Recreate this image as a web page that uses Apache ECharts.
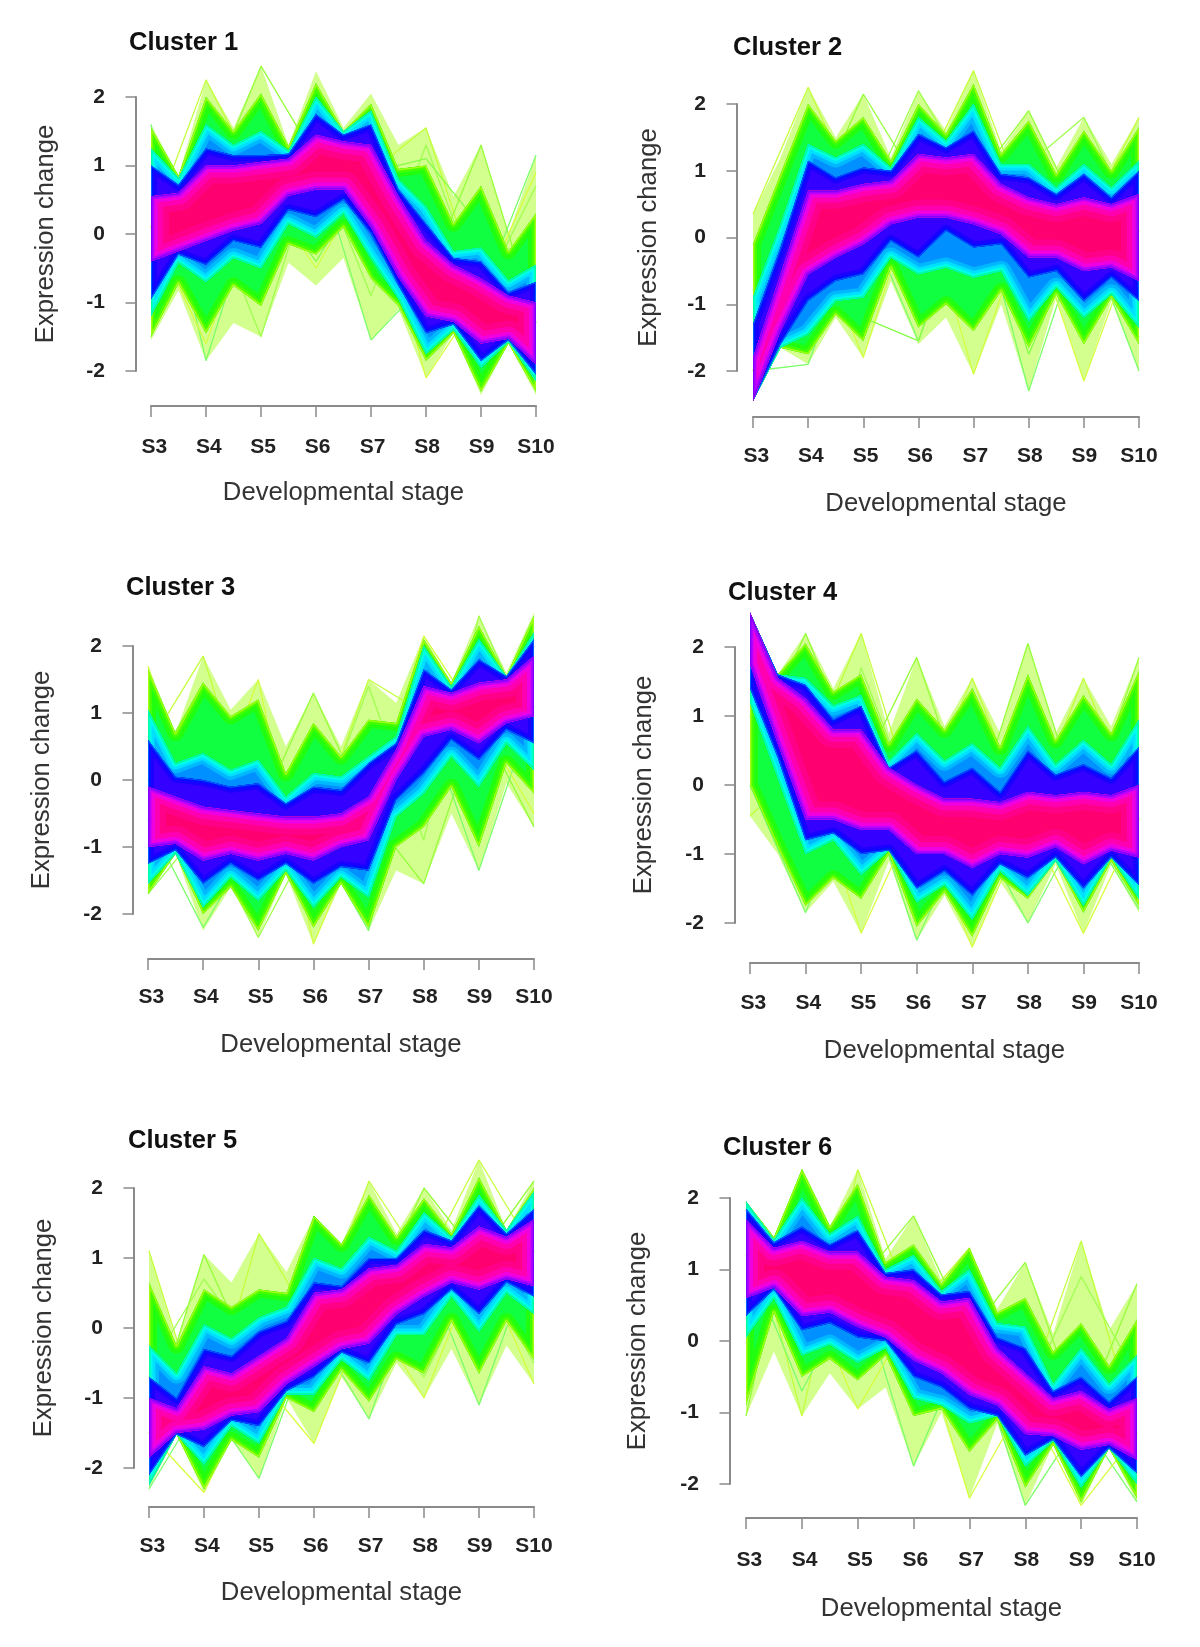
<!DOCTYPE html>
<html>
<head>
<meta charset="utf-8">
<title>Clusters</title>
<script src="https://cdn.jsdelivr.net/npm/echarts@6/dist/echarts.min.js"></script>
<style>
html,body{margin:0;padding:0;background:#fff}
#chart{width:1200px;height:1647px;filter:blur(.7px)}
</style>
</head>
<body>
<div id="chart"></div>
<script>
const stages = ['S3','S4','S5','S6','S7','S8','S9','S10'];
const stageTicks = [0,1,2,3,4,5,6,7];
// labels in the picture sit a little right of their ticks at the left end
const stageLabelPos = [.06,1.05,2.04,3.03,4.03,5.02,6.01,7];
// band outlines are read at each stage and halfway to the next one
const stagePos = [0,.5,1,1.5,2,2.5,3,3.5,4,4.5,5,5.5,6,6.5,7];

// outlines run outer to inner: sparse, green, cyan, blue, pink
const cluster1Upper = [
  [1.6,.85,2.25,1.55,2.45,1.3,2.38,1.55,2.05,1.3,1.55,.55,1.3,0,1.15],
  [1.55,.85,2,1.5,2.05,1.28,2.2,1.5,1.9,.95,1,.15,.7,-.25,.3],
  [1.25,.82,1.6,1.3,1.5,1.22,2,1.5,1.8,.8,.4,-.25,-.2,-.68,-.45],
  [1,.72,1.25,1.15,1.15,1.17,1.75,1.45,1.6,.65,.15,-.35,-.4,-.85,-.7],
  [.55,.6,1,1,1.05,1.1,1.45,1.35,1.3,.55,-.1,-.45,-.65,-.9,-1]
];
const cluster1Lower = [
  [-1.55,-.82,-1.85,-1.3,-1.5,-.42,-.75,-.35,-1.55,-1.1,-2.1,-1.45,-2.35,-1.6,-2.35],
  [-1.5,-.72,-1.45,-.75,-1.05,-.15,-.3,.1,-.65,-1.05,-1.85,-1.45,-2.3,-1.6,-2.3],
  [-1.2,-.42,-.7,-.35,-.5,.15,-.05,.3,-.35,-.95,-1.75,-1.4,-1.95,-1.58,-2.15],
  [-.95,-.3,-.45,-.1,-.2,.35,.25,.5,0,-.75,-1.45,-1.32,-1.85,-1.55,-2.05],
  [-.4,-.25,-.1,.05,.15,.56,.65,.65,.1,-.63,-1.2,-1.28,-1.6,-1.53,-1.9]
];
const cluster1Stray = [
  [.1,2.25,.7,1.1,.9,1.55,-.9,-1.3],
  [.1,.5,2.45,1.1,.9,-.7,1.3,-1.3],
  [1.6,-1.85,.7,1.1,-1.55,-.7,-.9,1.15],
  [.1,-1.6,.7,-.5,.9,-2.1,-.9,.9],
  [-1.5,.5,-1.5,1.1,-.9,1.3,-.9,.7],
  [.1,-1.3,.7,-.4,.9,1.1,.1,-1.3]
];

const cluster2Upper = [
  [.35,1.2,2.25,1.5,2.15,1.2,2.2,1.6,2.5,1.3,1.9,1.05,1.8,1.1,1.8],
  [-.1,.95,2,1.45,1.8,1.15,2,1.55,2.3,1.25,1.75,.95,1.6,1,1.65],
  [-.9,.2,1.4,1.2,1.4,1.05,1.8,1.45,2,1.1,1.1,.75,1.1,.75,1.15],
  [-1.3,-.15,1.15,.9,1.05,1,1.55,1.35,1.6,.95,.9,.65,.95,.6,1],
  [-1.8,-.55,.7,.7,.8,.85,1.25,1.2,1.25,.8,.6,.5,.6,.5,.65]
];
const cluster2Lower = [
  [-2.45,-1.65,-1.9,-1.2,-1.8,-.65,-1.6,-1.2,-2.05,-1,-2.3,-.9,-2.15,-.95,-2],
  [-2.45,-1.65,-1.75,-1.15,-1.55,-.45,-1.35,-1,-1.4,-.8,-1.65,-.85,-1.6,-.9,-1.6],
  [-2.45,-1.65,-1.45,-.95,-.9,-.3,-.55,-.45,-.6,-.5,-1.25,-.75,-1.2,-.85,-1.35],
  [-2.45,-1.6,-.95,-.65,-.55,-.05,-.3,.1,-.15,-.1,-.6,-.5,-.95,-.6,-.95],
  [-2.45,-1.4,-.55,-.3,-.1,.2,.3,.3,.2,.05,-.3,-.3,-.5,-.45,-.65]
];
const cluster2Stray = [
  [.35,2.25,.4,.8,2.5,.3,.2,1.8],
  [-.1,.3,2.15,.8,.8,1.9,.2,.1],
  [-2,-1.9,.4,-1.55,.8,-2.3,.2,-2],
  [-2,.3,-1.8,.8,-2.05,.3,-2.15,.1],
  [-2,.3,.4,2.2,.8,1.1,1.8,.1],
  [-.8,1.8,-1.2,-1.55,.8,-1.75,.2,-1.5]
];

const cluster3Upper = [
  [1.7,.7,1.85,1.05,1.5,.5,1.3,.5,1.5,1.15,2.15,1.45,2.45,1.6,2.5],
  [1.65,.7,1.45,.95,1.2,.1,.85,.35,.9,.85,2.1,1.45,2.3,1.55,2.45],
  [1.05,.25,.4,.15,.3,-.25,.1,.05,.35,.65,2,1.4,2.1,1.55,2.2],
  [.6,.05,0,-.1,-.05,-.35,-.1,-.15,.25,.55,1.65,1.35,1.8,1.55,2.1],
  [-.1,-.25,-.4,-.45,-.5,-.55,-.55,-.5,-.25,.45,1.4,1.3,1.45,1.5,1.85]
];
const cluster3Lower = [
  [-1.7,-1.1,-2.25,-1.6,-2.35,-1.4,-2.45,-1.55,-2.25,-1.35,-1.55,-.5,-1.35,-.05,-.7],
  [-1.7,-1.1,-2,-1.6,-2.25,-1.4,-2.2,-1.55,-2.2,-1,-.7,-.1,-1,.25,-.2],
  [-1.55,-1.1,-1.9,-1.45,-1.8,-1.35,-1.9,-1.45,-1.75,-.55,-.2,.35,-.1,.55,.15],
  [-1.25,-1.05,-1.55,-1.25,-1.5,-1.25,-1.55,-1.3,-1.35,-.3,.1,.6,.3,.75,.55],
  [-1,-.95,-1.2,-1.1,-1.2,-1.1,-1.2,-1,-.9,0,.65,.75,.55,.85,.95]
];
const cluster3Stray = [
  [.5,1.85,-.8,-.8,1.5,1,.9,1.1],
  [0,1.45,-.5,1.3,-.5,-1.55,.9,-.7],
  [-.6,-2.2,-.8,-.8,-2.25,1,-1.35,1.1],
  [1.7,-.7,1.5,-2.45,-.5,2.15,.9,-.5],
  [-1.7,-.7,-2.35,-.8,1.4,-.9,2.45,.6]
];

const cluster4Upper = [
  [2.5,1.6,2.2,1.4,2.2,.75,1.85,.85,1.55,.75,2.05,.75,1.55,.85,1.85],
  [2.5,1.6,2.05,1.35,1.6,.6,1.25,.8,1.4,.55,1.6,.65,1.3,.75,1.65],
  [2.5,1.6,1.55,1.15,1.3,.35,.75,.35,.6,.25,.85,.3,.65,.3,.95],
  [2.5,1.6,1.45,.95,1.15,.25,.5,.05,.25,-.1,.5,.15,.3,.1,.55],
  [2.5,1.55,1.25,.8,.8,.25,0,-.2,-.2,-.25,-.1,-.15,-.1,-.15,0]
];
const cluster4Lower = [
  [-.45,-1,-1.85,-1.4,-2.15,-1.1,-2.25,-1.6,-2.35,-1.4,-2,-1.15,-2.15,-1.15,-1.85],
  [0,-.9,-1.75,-1.35,-1.65,-1,-2.05,-1.55,-2.2,-1.35,-1.65,-1.1,-1.85,-1.1,-1.75],
  [1.2,.1,-1,-.8,-1.3,-.95,-1.7,-1.45,-1.95,-1.25,-1.6,-1.1,-1.75,-1.05,-1.65],
  [1.4,.4,-.8,-.7,-1,-.95,-1.5,-1.25,-1.6,-1.15,-1.35,-1.05,-1.5,-1.05,-1.45],
  [1.75,.6,-.5,-.5,-.65,-.65,-1,-1,-1.2,-1,-1.05,-.9,-1.15,-.95,-1.05]
];
const cluster4Stray = [
  [-.45,.3,2.2,-.4,1.55,-.5,1.55,-.5],
  [.4,2.2,.2,1.85,-.5,2.05,-.5,1.85],
  [0,-1.85,.2,-2.25,-.5,-2,-.5,-1.8],
  [1.9,.3,-2.15,-.4,-2.35,-.5,-2.15,-.5],
  [1,-1.6,1.7,-.4,1.4,-.5,1.3,-.5]
];

const cluster5Upper = [
  [1.1,-.2,1.05,.65,1.35,.8,1.6,1.2,2.1,1.35,2,1.4,2.4,1.4,2.1],
  [.65,-.25,.55,.3,.55,.5,1.6,1.2,1.9,1.3,1.85,1.35,2.15,1.4,2],
  [-.25,-.65,.05,-.15,.15,.3,1,.85,1.3,1.1,1.65,1.3,1.9,1.4,1.95],
  [-.7,-1,-.3,-.4,-.05,.1,.65,.6,1,1,1.4,1.25,1.75,1.35,1.7],
  [-1,-1.15,-.55,-.65,-.4,-.15,.5,.55,.85,.9,1.2,1.15,1.45,1.3,1.55]
];
const cluster5Lower = [
  [-2.3,-1.52,-2.35,-1.6,-2.15,-1,-1.65,-.7,-1.3,-.5,-1,-.3,-1.1,-.25,-.8],
  [-2.25,-1.52,-2.3,-1.6,-1.85,-1,-1.2,-.6,-1.05,-.45,-.65,.1,-.65,.1,-.45],
  [-2.25,-1.52,-1.95,-1.4,-1.65,-.95,-.95,-.45,-.75,-.1,-.1,.45,-.05,.5,.2],
  [-2.1,-1.52,-1.7,-1.32,-1.4,-.9,-.7,-.35,-.5,.05,.2,.55,.2,.65,.45],
  [-1.85,-1.5,-1.45,-1.25,-1.2,-.8,-.55,-.3,-.22,.2,.45,.65,.55,.7,.6]
];
const cluster5Stray = [
  [1.1,-1.4,1.35,0,2.1,.9,2.4,1.1],
  [-1.5,1.05,-.7,1.6,.3,2,1,2.1],
  [-2.3,-1,-2.15,0,-1.3,.9,-1.1,1.1],
  [-1.5,-2.35,-.7,-1.65,.3,-1,1,-.8],
  [-.6,.7,-.4,1.2,.3,-.7,.9,-.5]
];

const cluster6Upper = [
  [1.95,1.45,2.4,1.6,2.4,1.15,1.75,.85,1.3,.45,1.1,.1,1.4,.15,.8],
  [1.95,1.45,2.4,1.6,2.2,1.1,1.35,.8,1.3,.4,.6,-.15,.25,-.35,.3],
  [1.95,1.42,2,1.5,1.75,1,1.2,.7,1,.25,.2,-.6,-.1,-.6,-.2],
  [1.85,1.38,1.6,1.35,1.55,.95,1,.65,.7,.05,-.1,-.7,-.5,-.85,-.5],
  [1.7,1.3,1.4,1.25,1.25,.9,.85,.55,.6,-.1,-.45,-.8,-.7,-.95,-.8]
];
const cluster6Lower = [
  [-1.05,-.15,-1.05,-.45,-.95,-.65,-1.75,-1,-2.2,-1.15,-2.3,-1.45,-2.3,-1.5,-2.25],
  [-.9,.4,-.5,-.25,-.55,-.2,-1.05,-.95,-1.55,-1.1,-2.05,-1.45,-2.25,-1.5,-2.2],
  [.05,.6,-.2,-.05,-.3,-.1,-.8,-.9,-1.15,-1.05,-1.75,-1.4,-2.05,-1.5,-2],
  [.35,.72,.15,.25,.05,0,-.5,-.65,-.95,-1.05,-1.6,-1.38,-1.9,-1.5,-1.85],
  [.6,.75,.35,.4,.2,.05,-.27,-.45,-.75,-.9,-1.3,-1.33,-1.52,-1.45,-1.66]
];
const cluster6Stray = [
  [1.95,-1.05,2.4,.4,1.3,-.8,1.4,-1.3],
  [-1.05,2.4,.8,1.75,.1,1.1,-1.1,.8],
  [1.2,-.7,.8,-1.75,.1,-2.3,-1.1,-2.25],
  [1.2,.9,-.95,.4,-2.2,-.8,-2.3,-1.3],
  [.2,.9,-.4,.4,1.1,-.8,.9,-.5]
];

const clusters = [
  {name:'Cluster 1', upper:cluster1Upper, lower:cluster1Lower, stray:cluster1Stray},
  {name:'Cluster 2', upper:cluster2Upper, lower:cluster2Lower, stray:cluster2Stray},
  {name:'Cluster 3', upper:cluster3Upper, lower:cluster3Lower, stray:cluster3Stray},
  {name:'Cluster 4', upper:cluster4Upper, lower:cluster4Lower, stray:cluster4Stray},
  {name:'Cluster 5', upper:cluster5Upper, lower:cluster5Lower, stray:cluster5Stray},
  {name:'Cluster 6', upper:cluster6Upper, lower:cluster6Lower, stray:cluster6Stray}
];

// x0,x1 = S3,S10 ticks; y2,yM2 = ticks 2,-2; yAxisX/xAxisY = offset axis lines
const panels = [
  {x0:151,x1:536,y2:97,yM2:371,yAxisX:136,xAxisY:406,titleX:129,titleY:40,labelY:447,nameY:493,nameX:43},
  {x0:753,x1:1139,y2:104,yM2:371,yAxisX:737,xAxisY:417,titleX:733,titleY:45,labelY:456,nameY:504,nameX:646},
  {x0:148,x1:534,y2:646,yM2:914,yAxisX:133,xAxisY:959,titleX:126,titleY:585,labelY:997,nameY:1045,nameX:39},
  {x0:750,x1:1139,y2:647,yM2:923,yAxisX:735,xAxisY:963,titleX:728,titleY:590,labelY:1003,nameY:1051,nameX:641},
  {x0:149,x1:534,y2:1188,yM2:1468,yAxisX:134,xAxisY:1507,titleX:128,titleY:1138,labelY:1546,nameY:1593,nameX:41},
  {x0:746,x1:1137,y2:1198,yM2:1484,yAxisX:730,xAxisY:1518,titleX:723,titleY:1145,labelY:1560,nameY:1609,nameX:635}
];

// each band: base fill, then strokes kept inside the outline, edge colour last
const bandFades = [
  {base:'#d2ff8e', edges:[]},
  {base:'#10ff40', edges:[[16,'#20ff10'],[8,'#44ff00'],[3,'#a0ff10']]},
  {base:'#0090ff', edges:[[20,'#00b8ff'],[13,'#00e0ff'],[7,'#00ffe8'],[3,'#00ffa0']]},
  {base:'#3400ff', edges:[[12,'#1c00ff'],[6,'#0010ff'],[2,'#0060ff']]},
  {base:'#ff0070', edges:[[36,'#ff0088'],[24,'#ff00b0'],[14,'#f000e0'],[7,'#b800ff'],[3,'#8000ff']]}
];

function bandRenderer(upper, lower, fade) {
  return function (params, api) {
    const pts = [];
    stagePos.forEach((x, k) => pts.push(api.coord([x, upper[k]])));
    for (let k = stagePos.length - 1; k >= 0; k--) pts.push(api.coord([stagePos[k], lower[k]]));
    const outline = {type:'polygon', shape:{points:pts}};
    const kids = [{type:'polygon', shape:{points:pts}, style:{fill:fade.base}}];
    fade.edges.forEach(e => kids.push({
      type:'polygon', shape:{points:pts}, clipPath:outline,
      style:{fill:'none', stroke:e[1], lineWidth:e[0], lineJoin:'round'}
    }));
    return {type:'group', children:kids};
  };
}

const fontName = '"Liberation Sans", Arial, sans-serif';
const strayColors = ['#c4ff3c','#96ff3a','#7cff6a','#d6ff40','#a0ff50','#86ff46'];
const grids = [], xAxes = [], yAxes = [], titles = [], series = [];

clusters.forEach((c, i) => {
  const p = panels[i];
  grids.push({left:p.x0, top:p.y2, width:p.x1 - p.x0, height:p.yM2 - p.y2});
  titles.push({text:c.name, left:p.titleX - 5, top:p.titleY - 15,
    textStyle:{fontFamily:fontName, fontSize:25.5, fontWeight:'bold', color:'#111'}});
  xAxes.push({
    type:'value', gridIndex:i, min:0, max:7, interval:1, position:'bottom',
    offset:p.xAxisY - p.yM2,
    name:'Developmental stage', nameLocation:'middle', nameGap:p.nameY - p.xAxisY - 13, nameMoveOverlap:false,
    nameTextStyle:{fontFamily:fontName, fontSize:25.7, color:'#333'},
    axisLine:{onZero:false, lineStyle:{color:'#8a8a8a', width:2}},
    axisTick:{length:11, customValues:stageTicks, lineStyle:{color:'#8a8a8a', width:1.5}},
    axisLabel:{fontFamily:fontName, fontSize:21, fontWeight:'bold', color:'#222',
      margin:p.labelY - p.xAxisY - 10, customValues:stageLabelPos, hideOverlap:false,
      formatter:v => stages[Math.round(v)]},
    splitLine:{show:false}
  });
  yAxes.push({
    type:'value', gridIndex:i, min:-2, max:2, interval:1, position:'left',
    offset:p.x0 - p.yAxisX,
    name:'Expression change', nameLocation:'middle', nameGap:p.yAxisX - p.nameX - 16, nameMoveOverlap:false,
    nameTextStyle:{fontFamily:fontName, fontSize:25.7, color:'#333'},
    axisLine:{onZero:false, lineStyle:{color:'#8a8a8a', width:2}},
    axisTick:{length:10.5, lineStyle:{color:'#8a8a8a', width:1.5}},
    axisLabel:{fontFamily:fontName, fontSize:21, fontWeight:'bold', color:'#222', margin:31, showMinLabel:true, showMaxLabel:true},
    splitLine:{show:false}
  });
  c.upper.forEach((up, lev) => {
    series.push({
      type:'custom', xAxisIndex:i, yAxisIndex:i, clip:false, silent:true, animation:false,
      z:lev === 0 ? 1 : lev + 2,
      data:[[0, 0]], encode:{x:0, y:1},
      renderItem:bandRenderer(up, c.lower[lev], bandFades[lev])
    });
  });
  c.stray.forEach((vals, n) => series.push({
    type:'line', xAxisIndex:i, yAxisIndex:i, clip:false, silent:true, animation:false,
    z:2, showSymbol:false, data:vals.map((v, s) => [s, v]),
    lineStyle:{width:1.3, color:strayColors[n]}
  }));
});

const chart = echarts.init(document.getElementById('chart'), null, {renderer:'canvas'});
chart.setOption({
  backgroundColor:'#fff', animation:false,
  title:titles, grid:grids, xAxis:xAxes, yAxis:yAxes, series:series
});
</script>
</body>
</html>
